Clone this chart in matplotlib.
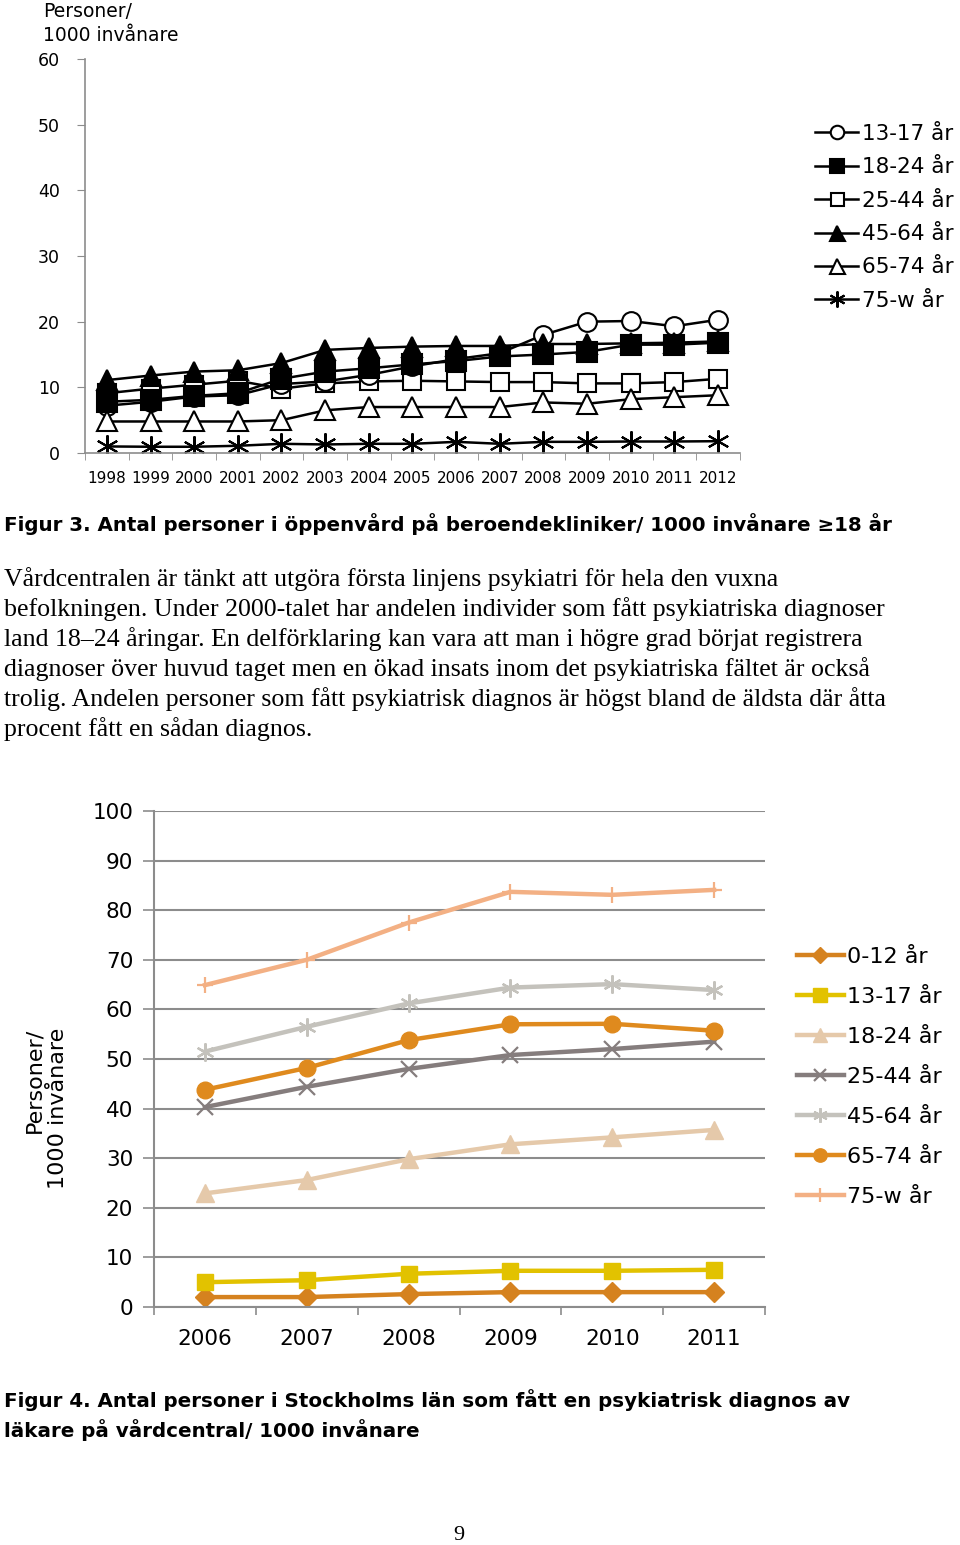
import matplotlib
matplotlib.use("Agg")
import matplotlib.pyplot as plt
from matplotlib.lines import Line2D

# Figur 3 - beroendekliniker 1998-2012
years3 = [str(y) for y in range(1998, 2013)]
a13_17 = [7.2, 7.8, 8.6, 8.8, 10.5, 10.9, 11.9, 13.2, 14.3, 15.2, 18.0, 20.0, 20.1, 19.3, 20.3]
a18_24 = [7.8, 8.1, 8.7, 9.1, 11.3, 12.4, 12.9, 13.5, 14.0, 14.7, 15.0, 15.4, 16.5, 16.5, 16.8]
a25_44 = [9.1, 9.8, 10.4, 11.0, 9.8, 10.6, 10.9, 11.0, 10.9, 10.8, 10.8, 10.6, 10.6, 10.8, 11.3]
a45_64 = [11.1, 11.8, 12.4, 12.6, 13.7, 15.7, 16.0, 16.2, 16.3, 16.3, 16.6, 16.6, 16.7, 16.8, 17.0]
a65_74 = [4.8, 4.8, 4.8, 4.8, 5.0, 6.5, 7.0, 7.0, 7.0, 7.0, 7.7, 7.5, 8.2, 8.5, 8.8]
a75_w = [1.0, 0.95, 0.95, 1.1, 1.4, 1.3, 1.4, 1.4, 1.7, 1.4, 1.7, 1.7, 1.75, 1.75, 1.8]

# Figur 4 - vårdcentral 2006-2011
years4 = ["2006", "2007", "2008", "2009", "2010", "2011"]
b0_12 = [2.0, 2.0, 2.6, 3.0, 3.0, 3.0]
b13_17 = [5.0, 5.4, 6.7, 7.3, 7.3, 7.5]
b18_24 = [22.9, 25.6, 29.8, 32.8, 34.2, 35.7]
b25_44 = [40.3, 44.4, 48.0, 50.8, 52.0, 53.5]
b45_64 = [51.5, 56.5, 61.2, 64.4, 65.1, 63.9]
b65_74 = [43.8, 48.2, 53.8, 57.0, 57.1, 55.7]
b75_w = [64.9, 70.0, 77.5, 83.7, 83.1, 84.1]

W, H = 960.0, 1545.0
def fx(px):
    return px / W
def fy(py):
    return 1 - py / H

fig = plt.figure(figsize=(9.6, 15.45), dpi=100, facecolor='white')
gray = '#8c8c8c'
asterisk = (6, 2, 0)

# ---------- top chart ----------
ax1 = fig.add_axes([fx(85), fy(453), fx(740 - 85), (453 - 59) / H])
x3 = range(len(years3))
top_series = [
    (a25_44, '25-44 år', dict(marker='s', ms=13, mfc='white')),
    (a13_17, '13-17 år', dict(marker='o', ms=13.5, mfc='white')),
    (a45_64, '45-64 år', dict(marker='^', ms=15, mfc='black')),
    (a18_24, '18-24 år', dict(marker='s', ms=14, mfc='black')),
    (a65_74, '65-74 år', dict(marker='^', ms=15, mfc='white')),
    (a75_w, '75-w år', dict(marker=asterisk, ms=16, mfc='black')),
]
for vals, lab, st in top_series:
    ax1.plot(x3, vals, color='black', lw=1.8, mec='black', mew=1.5, **st)
ax1.set_xlim(-0.5, len(years3) - 0.5)
ax1.set_ylim(0, 60)
ax1.set_yticks(range(0, 61, 10))
ax1.set_xticks(list(x3))
ax1.set_xticklabels(years3, fontsize=11)
ax1.set_xticks([i - 0.5 for i in range(len(years3) + 1)], minor=True)
ax1.tick_params(axis='x', which='major', length=0, pad=13)
ax1.tick_params(axis='x', which='minor', length=5, color=gray, direction='out')
ax1.tick_params(axis='y', length=6, color=gray, labelsize=12.5, pad=12)
for s in ['top', 'right']:
    ax1.spines[s].set_visible(False)
for s in ['left', 'bottom']:
    ax1.spines[s].set_color(gray)
    ax1.spines[s].set_linewidth(1.2)
fig.text(fx(43), fy(2), 'Personer/\n1000 invånare', fontsize=13.5, va='top', ha='left',
         linespacing=1.35)

leg_order = ['13-17 år', '18-24 år', '25-44 år', '45-64 år', '65-74 år', '75-w år']
styles = {lab: st for _, lab, st in top_series}
h1 = [Line2D([], [], color='black', lw=1.8, mec='black', mew=1.5,
             **dict(styles[lab], ms=styles[lab]['ms'] * 0.72)) for lab in leg_order]
fig.legend(h1, leg_order, loc='upper left', bbox_to_anchor=(fx(815), fy(124)),
           frameon=False, fontsize=15.5, borderpad=0, borderaxespad=0,
           handlelength=2.0, handletextpad=0.2, labelspacing=0.62)

# ---------- texts ----------
fig.text(fx(4), fy(531), 'Figur 3. Antal personer i öppenvård på beroendekliniker/ 1000 invånare \u226518 år',
         fontsize=14.3, fontweight='bold', va='baseline', ha='left')
para = [
    'Vårdcentralen är tänkt att utgöra första linjens psykiatri för hela den vuxna',
    'befolkningen. Under 2000-talet har andelen individer som fått psykiatriska diagnoser',
    'land 18\u201324 åringar. En delförklaring kan vara att man i högre grad börjat registrera',
    'diagnoser över huvud taget men en ökad insats inom det psykiatriska fältet är också',
    'trolig. Andelen personer som fått psykiatrisk diagnos är högst bland de äldsta där åtta',
    'procent fått en sådan diagnos.',
]
for i, line in enumerate(para):
    fig.text(fx(4), fy(586 + 30 * i), line, fontsize=18.6, family='Liberation Serif',
             va='baseline', ha='left')

fig.text(fx(4), fy(1407), 'Figur 4. Antal personer i Stockholms län som fått en psykiatrisk diagnos av',
         fontsize=14.3, fontweight='bold', va='baseline', ha='left')
fig.text(fx(4), fy(1437), 'läkare på vårdcentral/ 1000 invånare',
         fontsize=14.3, fontweight='bold', va='baseline', ha='left')
fig.text(fx(459), fy(1535), '9', fontsize=16, family='Liberation Serif', va='center', ha='center')

# ---------- bottom chart ----------
ax2 = fig.add_axes([fx(154), fy(1307), fx(765 - 154), (1307 - 811) / H])
x4 = range(len(years4))
bot_series = [
    (b0_12, '0-12 år', '#d5821f', dict(marker='D', ms=10)),
    (b13_17, '13-17 år', '#e2c200', dict(marker='s', ms=12)),
    (b18_24, '18-24 år', '#e5c9aa', dict(marker='^', ms=13)),
    (b25_44, '25-44 år', '#857d7d', dict(marker='x', ms=11, mew=1.6)),
    (b45_64, '45-64 år', '#c4c2bc', dict(marker=asterisk, ms=13, mew=1.6)),
    (b65_74, '65-74 år', '#df8a1e', dict(marker='o', ms=12)),
    (b75_w, '75-w år', '#f3b084', dict(marker='+', ms=12, mew=1.6)),
]
for vals, lab, col, st in bot_series:
    ax2.plot(x4, vals, color=col, lw=3.2, mec=col, mfc=col, label=lab, **st)
ax2.set_xlim(-0.5, len(years4) - 0.5)
ax2.set_ylim(0, 100)
ax2.set_yticks(range(0, 101, 10))
ax2.yaxis.grid(True, color=gray, lw=1.5)
ax2.set_axisbelow(True)
ax2.set_xticks(list(x4))
ax2.set_xticklabels(years4)
ax2.set_xticks([i - 0.5 for i in range(len(years4) + 1)], minor=True)
ax2.tick_params(axis='x', which='major', length=0, pad=16, labelsize=15.5)
ax2.tick_params(axis='x', which='minor', length=6, color=gray, width=1.2)
ax2.tick_params(axis='y', length=8, color=gray, width=1.2, labelsize=15.5, pad=7)
for s in ['top', 'right']:
    ax2.spines[s].set_visible(False)
for s in ['left', 'bottom']:
    ax2.spines[s].set_color(gray)
    ax2.spines[s].set_linewidth(1.5)
fig.text(fx(46), fy(1108), 'Personer/\n1000 invånare', fontsize=16, rotation=90,
         va='center', ha='center', multialignment='right', linespacing=1.2)

fig.legend(*ax2.get_legend_handles_labels(), loc='upper left',
           bbox_to_anchor=(fx(797), fy(947)), frameon=False, fontsize=16,
           borderpad=0, borderaxespad=0, handlelength=2.1, handletextpad=0.15,
           labelspacing=0.9, markerscale=0.8)

fig.savefig('out.png', dpi=100, facecolor='white')
